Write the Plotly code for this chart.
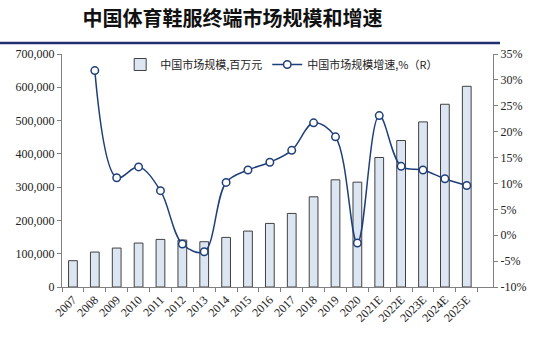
import plotly.graph_objects as go

# Data: China sportswear & footwear retail market size and growth
years = ["2007", "2008", "2009", "2010", "2011", "2012", "2013", "2014", "2015", "2016",
         "2017", "2018", "2019", "2020", "2021E", "2022E", "2023E", "2024E", "2025E"]
market_size = [79000, 105000, 117000, 132000, 143000, 141000, 136000, 149000, 168000, 191000,
               221000, 271000, 322000, 315000, 389000, 440000, 496000, 549000, 603000]
growth_years = years[1:]
growth_pct = [31.8, 11.1, 13.2, 8.6, -1.7, -3.2, 10.2, 12.6, 14.1,
              16.4, 21.7, 19.0, -1.5, 23.1, 13.3, 12.6, 10.9, 9.6]

right_tick_vals = [-10, -5, 0, 5, 10, 15, 20, 25, 30, 35]
right_tick_text = ["-10%", "-5%", "0%", "5%", "10%", "15%", "20%", "25%", "30%", "35%"]

NAVY = "#1F3F7A"
SERIF = "Liberation Serif, Times New Roman, serif"
CJK = "Noto Sans CJK SC"

fig = go.Figure()

fig.add_trace(go.Bar(
    x=years, y=market_size, name="中国市场规模,百万元",
    marker=dict(color="#DCE6F2", line=dict(color="#404040", width=1)),
    width=0.4,
))

fig.add_trace(go.Scatter(
    x=growth_years, y=growth_pct, name="中国市场规模增速,%（R）", yaxis="y2",
    mode="lines+markers",
    line=dict(color=NAVY, width=1.5, shape="spline", smoothing=1.0),
    marker=dict(symbol="circle", size=7.5, color="white", line=dict(color=NAVY, width=1.5)),
))

axis_common = dict(
    showgrid=False, zeroline=False, showline=True, linecolor="#808080", linewidth=1,
    ticks="outside", tickcolor="#808080", ticklen=4,
    tickfont=dict(family=SERIF, size=12, color="#222222"),
)

fig.update_layout(
    width=547, height=340,
    margin=dict(l=62, r=54, t=54, b=53),
    paper_bgcolor="white", plot_bgcolor="white",
    title=dict(
        text="<b>中国体育鞋服终端市场规模和增速</b>",
        font=dict(family=CJK, size=20, color="#111111"),
        x=0.425, xanchor="center", xref="container",
        y=1 - 19 / 340, yanchor="middle", yref="container",
    ),
    xaxis=dict(
        **axis_common, type="category", tickangle=-45, tickson="boundaries",
    ),
    yaxis=dict(
        **axis_common, range=[0, 700000], dtick=100000, tickformat=",",
    ),
    yaxis2=dict(
        **axis_common, overlaying="y", side="right", range=[-10, 35],
        tickvals=right_tick_vals, ticktext=right_tick_text,
    ),
    legend=dict(
        orientation="h", x=0.135, y=0.955, xanchor="left", yanchor="middle",
        bgcolor="rgba(0,0,0,0)", font=dict(family=CJK, size=11, color="#222222"),
        itemwidth=30,
    ),
    showlegend=True,
    bargap=0.6,
)

# Navy rule under the title
fig.add_shape(
    type="line", xref="paper", yref="paper",
    x0=-62 / 431, x1=(500 - 62) / 431, y0=(287 - 43) / 233, y1=(287 - 43) / 233,
    line=dict(color="#1F2F6F", width=2.5),
)

fig.write_html("out.html")
